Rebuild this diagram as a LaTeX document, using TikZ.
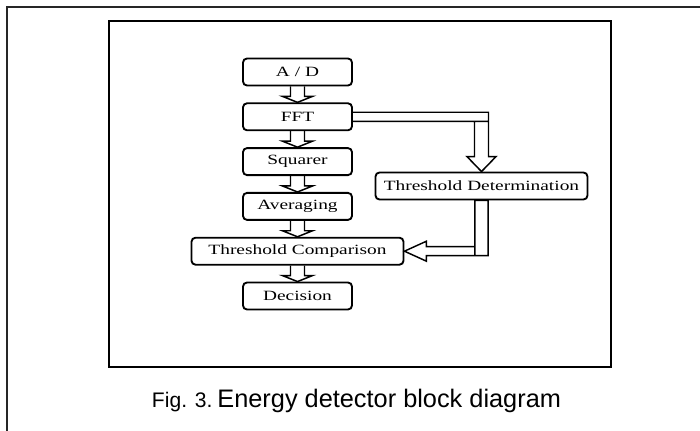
\documentclass[tikz,border=0pt]{standalone}
\usepackage{fontspec}
\setmainfont{Liberation Serif}
\newfontfamily\boxfont[FakeStretch=1.37]{Liberation Serif}
\newfontfamily\capfont{Liberation Sans}
\usetikzlibrary{positioning,calc}

\begin{document}
\begin{tikzpicture}[x=0.75pt, y=-0.75pt, line join=miter,
node distance = 33.6pt,
box/.style={draw, rounded corners=3pt, line width=1.4pt, inner sep=0pt,
  minimum width=81.75pt, minimum height=20.25pt,
  font=\boxfont\fontsize{10.6}{12}\selectfont},
widebox/.style={box, minimum width=159pt},
hollow/.style={draw, line width=1.1pt}]

\useasboundingbox (0,0) rectangle (700,431);
\draw [line width=1.5pt, black!85] (7,431) -- (7,7) -- (700,7);
\draw [line width=2.2pt] (109,21) rectangle (611,367);

\node [box] (ad) at (297.5,72) {A / D};
\node [box] (fft) [below of=ad] {FFT};
\node [box] (sq) [below of=fft] {Squarer};
\node [box] (avg) [below of=sq] {Averaging};
\node [widebox] (tc) [below of=avg] {Threshold Comparison};
\node [box] (dec) [below of=tc] {Decision};

\node [widebox] (td) at (481.5,186) {Threshold Determination};

\foreach \a/\b in {ad/fft, fft/sq, sq/avg, avg/tc, tc/dec}
  \draw [hollow] let \p1=(\a.south), \p2=(\b.north) in
    (\x1-5.25pt,\y1) -- (\x1-5.25pt,\y2+4.5pt) -- (\x1-11.25pt,\y2+4.5pt)
    -- (\x1,\y2) -- (\x1+11.25pt,\y2+4.5pt) -- (\x1+5.25pt,\y2+4.5pt)
    -- (\x1+5.25pt,\y1);

\draw [hollow] let \p1=(fft.east), \p2=(td.north) in
  (\x1,\y1+3.4pt) -- (\x2+5.25pt,\y1+3.4pt) -- (\x2+5.25pt,\y1-3.4pt)
  -- (\x1,\y1-3.4pt)
  (\x2-5.25pt,\y1-3.4pt) -- (\x2-5.25pt,\y2+11.25pt) -- (\x2-10.9pt,\y2+11.25pt)
  -- (\x2,\y2) -- (\x2+10.9pt,\y2+11.25pt) -- (\x2+5.25pt,\y2+11.25pt)
  -- (\x2+5.25pt,\y1-3.4pt);

\draw [hollow] let \p1=(td.south), \p2=(tc.east) in
  (\x1-4.9pt,\y1) rectangle (\x1+4.9pt,\y2-3.4pt)
  (\x1-4.9pt,\y2+3.4pt) -- (\x2+16.5pt,\y2+3.4pt) -- (\x2+16.5pt,\y2+7.5pt)
  -- (\x2,\y2) -- (\x2+16.5pt,\y2-7.5pt) -- (\x2+16.5pt,\y2-3.4pt)
  -- (\x1-4.9pt,\y2-3.4pt);

\node [anchor=base] (cap) at (356.5,407) {\capfont{\fontsize{15.8}{18}\selectfont Fig. 3.}
  \fontsize{19}{22}\selectfont Energy detector block diagram};

\end{tikzpicture}
\end{document}
